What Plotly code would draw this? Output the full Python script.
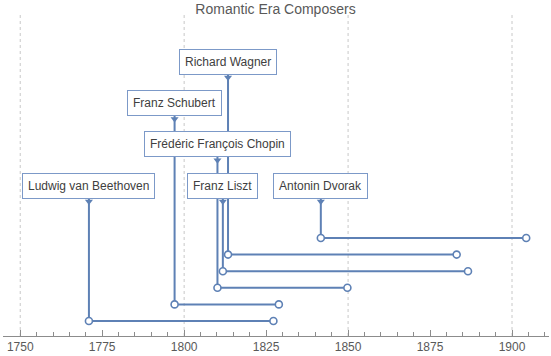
import plotly.graph_objects as go

# ---- data ----
composers = ["Ludwig van Beethoven", "Franz Schubert", "Frédéric François Chopin",
             "Franz Liszt", "Richard Wagner", "Antonin Dvorak"]
births = ["1770-12-17", "1797-01-31", "1810-03-01", "1811-10-22", "1813-05-22", "1841-09-08"]
deaths = ["1827-03-26", "1828-11-19", "1849-10-17", "1886-07-31", "1883-02-13", "1904-05-01"]
tick_years = [1750, 1775, 1800, 1825, 1850, 1875, 1900]
grid_years = [1750, 1800, 1850, 1900]

# ---- layout helpers ----
label_row = [0, 2, 1, 0, 3, 0]       # stacking row of each label box
row_base, row_step = 9.15, 2.49      # label rows in y units
tri_offset = 0.96

LINE = "#5E81B5"
BORDER = "#7C99C8"
TEXT = "#404040"
FONT = "Arial, Liberation Sans, sans-serif"

fig = go.Figure()

for i, name in enumerate(composers):
    level = i + 1
    ly = row_base + row_step * label_row[i]
    fig.add_trace(go.Scatter(
        x=[births[i], births[i], deaths[i]], y=[ly, level, level],
        mode="lines", line=dict(color=LINE, width=2), hoverinfo="skip", showlegend=False))
    fig.add_trace(go.Scatter(
        x=[births[i]], y=[ly - tri_offset], mode="markers",
        marker=dict(symbol="triangle-down", size=7, color=LINE, line=dict(width=0)),
        hoverinfo="skip", showlegend=False))
    fig.add_trace(go.Scatter(
        x=[births[i], deaths[i]], y=[level, level], mode="markers",
        marker=dict(symbol="circle", size=7, color="white", line=dict(color=LINE, width=1.6)),
        hoverinfo="skip", showlegend=False))
    fig.add_annotation(
        x=births[i], y=ly, xref="x", yref="y", text=name, showarrow=False,
        font=dict(family=FONT, size=12, color=TEXT),
        bgcolor="white", bordercolor=BORDER, borderwidth=1, borderpad=5,
        xanchor="center", yanchor="middle")

for g in grid_years:
    fig.add_shape(type="line", x0=f"{g}-01-01", x1=f"{g}-01-01", xref="x",
                  y0=0, y1=1, yref="paper", layer="below",
                  line=dict(color="#C8C8C8", width=1, dash="dot"))

fig.update_layout(
    width=551, height=356,
    margin=dict(l=3, r=2, t=12, b=20),
    paper_bgcolor="white", plot_bgcolor="white",
    title=dict(text="Romantic Era Composers", x=0.5, xanchor="center",
               y=1 - 9 / 356, yanchor="middle",
               font=dict(family=FONT, size=14, color="#595959")),
    xaxis=dict(
        type="date", range=["1744-10-01", "1911-04-15"],
        tickvals=[f"{y}-01-01" for y in tick_years],
        ticktext=[str(y) for y in tick_years],
        showgrid=False, zeroline=False,
        showline=True, linecolor="#8C8C8C", linewidth=1,
        ticks="inside", ticklen=6, tickcolor="#8C8C8C", tickwidth=1,
        minor=dict(dtick="M60", tick0="1750-01-01", ticks="inside", ticklen=4,
                   tickcolor="#8C8C8C", showgrid=False),
        tickfont=dict(family=FONT, size=12, color="#595959"),
        fixedrange=True),
    yaxis=dict(range=[0.096, 19.61], visible=False, fixedrange=True),
)

fig.write_html("out.html", config={"displayModeBar": False},
               post_script="document.body.style.margin='0';document.body.style.overflow='hidden';")
